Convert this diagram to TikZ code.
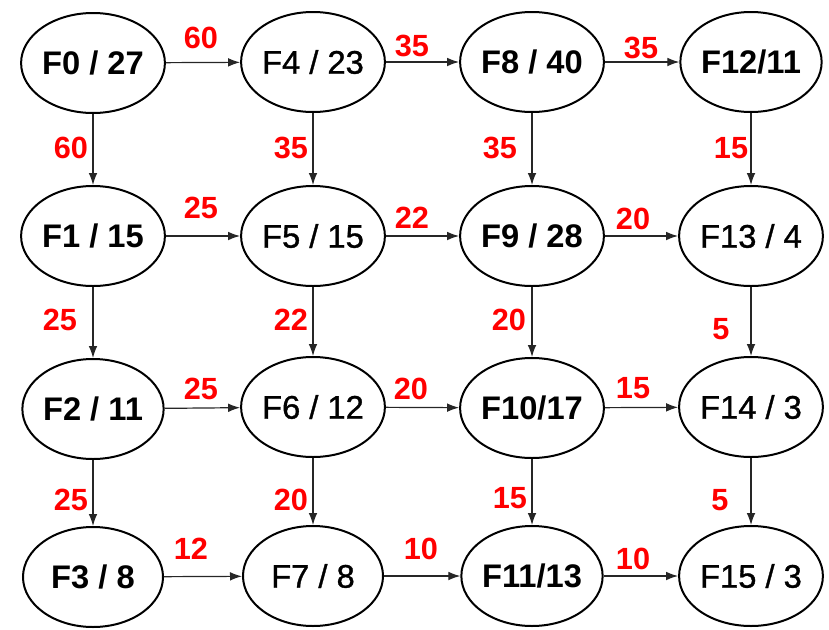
\documentclass[tikz,border=0pt]{standalone}
\usepackage{fontspec}
\setmainfont{Liberation Sans}
\newfontfamily\medfont{Liberation Sans}[FakeBold=1]
\usetikzlibrary{shapes.geometric,arrows.meta}
\begin{document}
\begin{tikzpicture}[x=0.75pt,y=-0.75pt,
  fnode/.style={ellipse,draw=black,line width=1.5pt,minimum width=105pt,minimum height=75pt,inner sep=0pt,font=\fontsize{24.5}{28}\selectfont\medfont},
  bnode/.style={fnode,font=\fontsize{24.5}{28}\selectfont\bfseries},
  edge/.style={line width=0.9pt,draw=black!85,-{Latex[length=9pt,width=6.5pt]}},
  wlab/.style={text=red,font=\fontsize{23}{27}\selectfont\bfseries,inner sep=0pt}]
\useasboundingbox (0,0) rectangle (829,629);
% nodes
\node[bnode] (F0) at (93,63) {F0 / 27};
\node[bnode] (F1) at (93,236) {F1 / 15};
\node[bnode] (F2) at (93,409) {F2 / 11};
\node[bnode] (F3) at (93,577) {F3 / 8};
\node[fnode] (F4) at (313,62) {F4 / 23};
\node[fnode] (F5) at (313,236) {F5 / 15};
\node[fnode] (F6) at (313,407) {F6 / 12};
\node[fnode] (F7) at (313,576) {F7 / 8};
\node[bnode] (F8) at (532,62) {F8 / 40};
\node[bnode] (F9) at (532,236) {F9 / 28};
\node[bnode] (F10) at (532,408) {F10/17};
\node[bnode] (F11) at (532,576) {F11/13};
\node[bnode] (F12) at (751,62) {F12/11};
\node[fnode] (F13) at (751,236) {F13 / 4};
\node[fnode] (F14) at (751,407) {F14 / 3};
\node[fnode] (F15) at (751,576) {F15 / 3};
% horizontal edges
\draw[edge] (F0) -- (F4);
\draw[edge] (F4) -- (F8);
\draw[edge] (F8) -- (F12);
\draw[edge] (F1) -- (F5);
\draw[edge] (F5) -- (F9);
\draw[edge] (F9) -- (F13);
\draw[edge] (F2) -- (F6);
\draw[edge] (F6) -- (F10);
\draw[edge] (F10) -- (F14);
\draw[edge] (F3) -- (F7);
\draw[edge] (F7) -- (F11);
\draw[edge] (F11) -- (F15);
% vertical edges
\draw[edge] (F0) -- (F1);
\draw[edge] (F1) -- (F2);
\draw[edge] (F2) -- (F3);
\draw[edge] (F4) -- (F5);
\draw[edge] (F5) -- (F6);
\draw[edge] (F6) -- (F7);
\draw[edge] (F8) -- (F9);
\draw[edge] (F9) -- (F10);
\draw[edge] (F10) -- (F11);
\draw[edge] (F12) -- (F13);
\draw[edge] (F13) -- (F14);
\draw[edge] (F14) -- (F15);
% labels horizontal
\node[wlab] (l0) at (201,38) {60};
\node[wlab] (l1) at (412,46) {35};
\node[wlab] (l2) at (641,48) {35};
\node[wlab] (l3) at (201,208) {25};
\node[wlab] (l4) at (412,218) {22};
\node[wlab] (l5) at (633,219) {20};
\node[wlab] (l6) at (201,389) {25};
\node[wlab] (l7) at (411,389) {20};
\node[wlab] (l8) at (633,388) {15};
\node[wlab] (l9) at (191,549) {12};
\node[wlab] (l10) at (421,549) {10};
\node[wlab] (l11) at (633,559) {10};
% labels vertical
\node[wlab] (v0) at (71,148) {60};
\node[wlab] (v1) at (60,320) {25};
\node[wlab] (v2) at (71,500) {25};
\node[wlab] (v3) at (291,148) {35};
\node[wlab] (v4) at (291,320) {22};
\node[wlab] (v5) at (291,500) {20};
\node[wlab] (v6) at (500,148) {35};
\node[wlab] (v7) at (509,320) {20};
\node[wlab] (v8) at (510,498) {15};
\node[wlab] (v9) at (731,148) {15};
\node[wlab] (v10) at (721,329) {5};
\node[wlab] (v11) at (720,500) {5};
\end{tikzpicture}
\end{document}
